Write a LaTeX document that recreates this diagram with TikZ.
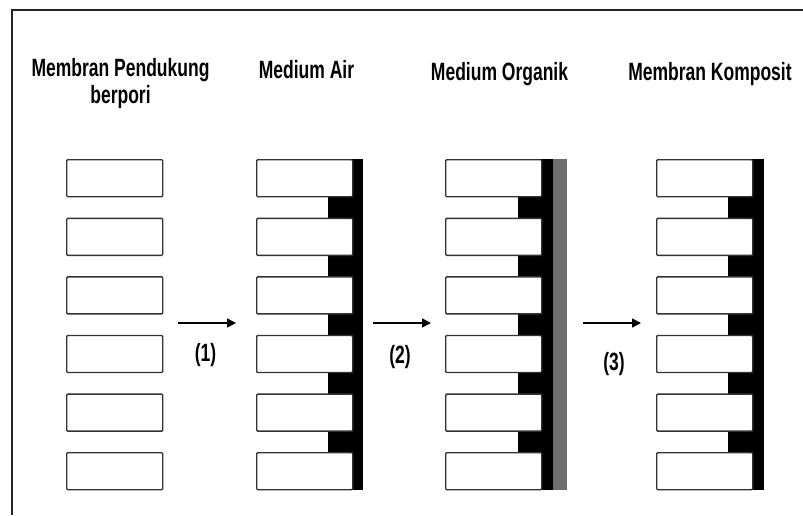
\documentclass[tikz,border=0pt]{standalone}
\usepackage{fontspec}
\setmainfont{Liberation Sans}
\newfontfamily\narrowfont[FakeStretch=0.7]{Liberation Sans}
\usetikzlibrary{arrows.meta}
\definecolor{orggray}{HTML}{6E6E6E}
\definecolor{edgegray}{HTML}{333333}
\tikzset{
  x=1pt, y=-1pt,
  pore/.style={draw=edgegray, line width=1.4pt, fill=white, rounded corners=1pt,
    minimum width=96pt, minimum height=37pt, inner sep=0pt, anchor=north west},
  title/.style={font=\narrowfont\bfseries\fontsize{25}{30}\selectfont, anchor=base, inner sep=0pt},
  steplabel/.style={font=\narrowfont\bfseries\fontsize{25}{30}\selectfont, inner sep=0pt},
  procarrow/.style={line width=1.5pt, -{Triangle[length=9pt,width=9pt]}},
  frameline/.style={line width=1.6pt, draw=black!85},
}
\begin{document}
\begin{tikzpicture}
\useasboundingbox (0,0) rectangle (803,515);
% frame
\draw[frameline] (803,10) -- (12,10) -- (12,515);
% titles
\node[title] (t1) at (120.5,76) {Membran Pendukung};
\node[title] (t1b) at (120.5,103) {berpori};
\node[title] (t2) at (306.5,78) {Medium Air};
\node[title] (t3) at (499.5,80) {Medium Organik};
\node[title] (t4) at (710,80) {Membran Komposit};
% backing layers
\fill[black] (328,159) rectangle (363,490);
\fill[black] (518,159) rectangle (553,490);
\fill[orggray] (553,159) rectangle (567,490);
\fill[black] (728,159) rectangle (764,490);
% pore boxes
\foreach \c/\x in {a/66,b/256,c/445,d/656}{
  \foreach \r in {0,...,5}{
    \node[pore] (\c\r) at (\x,{159+58.6*\r}) {};
  }
}
% arrows
\coordinate (s1) at (178,323);
\coordinate (e1) at (236,323);
\coordinate (s2) at (373,323);
\coordinate (e2) at (431,323);
\coordinate (s3) at (583,323);
\coordinate (e3) at (641,323);
\draw[procarrow] (s1) -- (e1);
\draw[procarrow] (s2) -- (e2);
\draw[procarrow] (s3) -- (e3);
\node[steplabel] (l1) at (205.5,355) {(1)};
\node[steplabel] (l2) at (400,357) {(2)};
\node[steplabel] (l3) at (614,364) {(3)};
\end{tikzpicture}
\end{document}
